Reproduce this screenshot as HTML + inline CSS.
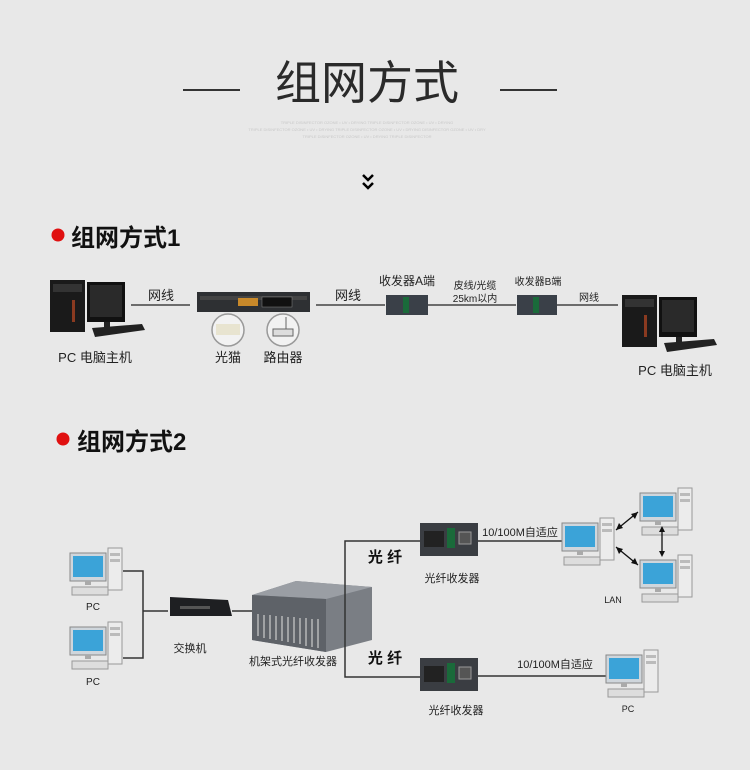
<!DOCTYPE html>
<html><head><meta charset="utf-8"><style>
html,body{margin:0;padding:0;background:#e8e8e8;}
svg{display:block;}
text{font-family:"Liberation Sans","Noto Sans CJK SC",sans-serif;}
</style></head><body>
<svg width="750" height="770" viewBox="0 0 750 770" xmlns="http://www.w3.org/2000/svg">
<defs>
<g id="pcA">
 <rect x="0" y="0" width="35" height="52" fill="#1a1a1a"/>
 <rect x="3" y="4" width="29" height="8" fill="#333"/>
 <rect x="22" y="20" width="3" height="22" fill="#8a3a20"/>
 <rect x="37" y="2" width="38" height="40" fill="#111"/>
 <rect x="40" y="5" width="32" height="32" fill="#2a2a2a"/>
 <rect x="54" y="42" width="6" height="6" fill="#222"/>
 <polygon points="42,48 92,44 95,50 45,57" fill="#222"/>
</g>
<g id="pcB">
 <rect x="0" y="0" width="36" height="28" fill="#cfd6dc" stroke="#888" stroke-width="1"/>
 <rect x="3" y="3" width="30" height="21" fill="#3ba3d8"/>
 <rect x="15" y="28" width="6" height="4" fill="#aaa"/>
 <rect x="38" y="-5" width="14" height="42" fill="#ececec" stroke="#999" stroke-width="1"/>
 <rect x="40" y="0" width="10" height="3" fill="#bbb"/><rect x="40" y="6" width="10" height="3" fill="#bbb"/>
 <rect x="2" y="34" width="36" height="8" fill="#ddd" stroke="#999" stroke-width="1"/>
</g>
<g id="trx">
 <rect x="0" y="0" width="58" height="33" fill="#3a3d42"/>
 <rect x="4" y="8" width="20" height="16" fill="#222"/>
 <rect x="27" y="5" width="8" height="20" fill="#1a6a3a"/>
 <rect x="39" y="9" width="12" height="12" fill="#555" stroke="#999"/>
</g>
</defs>

<line x1="183" y1="90" x2="240" y2="90" stroke="#333" stroke-width="2"/>
<line x1="500" y1="90" x2="557" y2="90" stroke="#333" stroke-width="2"/>
<text x="367" y="99" font-size="46" text-anchor="middle" fill="#2a2a2a">组网方式</text>
<text x="367" y="124" font-size="4" text-anchor="middle" fill="#c8c8c8">TRIPLE DISINFECTOR OZONE • UV • DRYING TRIPLE DISINFECTOR OZONE • UV • DRYING</text>
<text x="367" y="131" font-size="4" text-anchor="middle" fill="#c8c8c8">TRIPLE DISINFECTOR OZONE • UV • DRYING TRIPLE DISINFECTOR OZONE • UV • DRYING DISINFECTOR OZONE • UV • DRY</text>
<text x="367" y="138" font-size="4" text-anchor="middle" fill="#c8c8c8">TRIPLE DISINFECTOR OZONE • UV • DRYING TRIPLE DISINFECTOR</text>
<polyline points="363,175 368,180 373,175" fill="none" stroke="#000" stroke-width="2.5"/>
<polyline points="363,183 368,188 373,183" fill="none" stroke="#000" stroke-width="2.5"/>

<circle cx="58" cy="235" r="6.5" fill="#e01010"/>
<text x="71" y="246" font-size="24" font-weight="bold" fill="#111">组网方式1</text>

<use href="#pcA" x="50" y="280"/>
<text x="95" y="362" font-size="13" text-anchor="middle" fill="#222">PC  电脑主机</text>
<line x1="131" y1="305" x2="190" y2="305" stroke="#222" stroke-width="1.2"/>
<text x="161" y="300" font-size="13" text-anchor="middle" fill="#222">网线</text>
<rect x="197" y="292" width="113" height="20" fill="#2e3033"/>
<rect x="200" y="296" width="107" height="4" fill="#444"/>
<rect x="238" y="298" width="20" height="8" fill="#c8892a"/>
<rect x="262" y="297" width="30" height="10" fill="#111" stroke="#888" stroke-width="0.5"/>
<circle cx="228" cy="330" r="16" fill="#f2f2f2" stroke="#999" stroke-width="1.5"/>
<rect x="216" y="324" width="24" height="11" fill="#e8e4d0"/>
<circle cx="283" cy="330" r="16" fill="#f2f2f2" stroke="#999" stroke-width="1.5"/>
<rect x="273" y="329" width="20" height="7" fill="#ddd" stroke="#666"/>
<line x1="286" y1="317" x2="286" y2="329" stroke="#666"/>
<text x="228" y="362" font-size="13" text-anchor="middle" fill="#222">光猫</text>
<text x="283" y="362" font-size="13" text-anchor="middle" fill="#222">路由器</text>
<line x1="316" y1="305" x2="385" y2="305" stroke="#222" stroke-width="1.2"/>
<text x="348" y="300" font-size="13" text-anchor="middle" fill="#222">网线</text>
<rect x="386" y="295" width="42" height="20" fill="#3a4048"/>
<rect x="403" y="297" width="6" height="16" fill="#1a6a3a"/>
<text x="407" y="285" font-size="12" text-anchor="middle" fill="#222">收发器A端</text>
<line x1="428" y1="305" x2="516" y2="305" stroke="#222" stroke-width="1.2"/>
<text x="475" y="289" font-size="10" text-anchor="middle" fill="#222">皮线/光缆</text>
<text x="475" y="302" font-size="10" text-anchor="middle" fill="#222">25km以内</text>
<rect x="517" y="295" width="40" height="20" fill="#3a4048"/>
<rect x="533" y="297" width="6" height="16" fill="#1a6a3a"/>
<text x="538" y="285" font-size="10" text-anchor="middle" fill="#222">收发器B端</text>
<line x1="557" y1="305" x2="618" y2="305" stroke="#222" stroke-width="1.2"/>
<text x="589" y="301" font-size="10" text-anchor="middle" fill="#222">网线</text>
<use href="#pcA" x="622" y="295"/>
<text x="675" y="375" font-size="13" text-anchor="middle" fill="#222">PC  电脑主机</text>

<circle cx="63" cy="439" r="6.5" fill="#e01010"/>
<text x="77" y="450" font-size="24" font-weight="bold" fill="#111">组网方式2</text>

<use href="#pcB" x="70" y="553"/>
<text x="93" y="610" font-size="10" text-anchor="middle" fill="#222" font-family="Liberation Serif">PC</text>
<use href="#pcB" x="70" y="627"/>
<text x="93" y="685" font-size="10" text-anchor="middle" fill="#222" font-family="Liberation Serif">PC</text>
<polyline points="123,571 143,571 143,658 123,658" fill="none" stroke="#333" stroke-width="1.5"/>
<line x1="143" y1="611" x2="168" y2="611" stroke="#333" stroke-width="1.5"/>
<polygon points="170,597 228,600 232,616 170,616" fill="#1e1f22"/>
<rect x="180" y="606" width="30" height="3" fill="#555"/>
<text x="190" y="652" font-size="11" text-anchor="middle" fill="#222">交换机</text>
<line x1="232" y1="611" x2="252" y2="611" stroke="#333" stroke-width="1.5"/>
<polygon points="252,595 296,581 372,587 372,640 326,652 252,640" fill="#7a7e84"/>
<polygon points="252,595 296,581 372,587 326,599" fill="#9a9ea4"/>
<polygon points="252,595 326,599 326,652 252,640" fill="#5e6268"/>
<g stroke="#ccc" stroke-width="1.2">
<line x1="258" y1="614" x2="258" y2="636"/><line x1="264" y1="615" x2="264" y2="638"/><line x1="270" y1="615" x2="270" y2="639"/><line x1="276" y1="616" x2="276" y2="640"/><line x1="282" y1="616" x2="282" y2="641"/><line x1="288" y1="617" x2="288" y2="642"/><line x1="294" y1="617" x2="294" y2="643"/><line x1="300" y1="618" x2="300" y2="644"/><line x1="306" y1="618" x2="306" y2="646"/><line x1="312" y1="619" x2="312" y2="647"/><line x1="318" y1="619" x2="318" y2="648"/>
</g>
<text x="293" y="665" font-size="11" text-anchor="middle" fill="#222">机架式光纤收发器</text>
<polyline points="420,541 345,541 345,677 420,677" fill="none" stroke="#333" stroke-width="1.5"/>
<text x="385" y="562" font-size="15" font-weight="bold" text-anchor="middle" fill="#111">光  纤</text>
<text x="385" y="663" font-size="15" font-weight="bold" text-anchor="middle" fill="#111">光  纤</text>
<use href="#trx" x="420" y="523"/>
<text x="452" y="582" font-size="11" text-anchor="middle" fill="#222">光纤收发器</text>
<line x1="478" y1="541" x2="562" y2="541" stroke="#333" stroke-width="1.5"/>
<text x="520" y="536" font-size="11" text-anchor="middle" fill="#222">10/100M自适应</text>
<use href="#pcB" x="562" y="523"/>
<use href="#pcB" x="640" y="493"/>
<use href="#pcB" x="640" y="560"/>
<text x="613" y="603" font-size="9" text-anchor="middle" fill="#222" font-family="Liberation Serif">LAN</text>
<g stroke="#111" stroke-width="1.3">
<line x1="616" y1="530" x2="638" y2="512"/><line x1="616" y1="547" x2="638" y2="565"/><line x1="662" y1="528" x2="662" y2="555"/>
</g>
<g fill="#111">
<polygon points="616,530 619,523 623,528"/><polygon points="638,512 631,514 635,519"/>
<polygon points="616,547 619,554 623,549"/><polygon points="638,565 631,563 635,558"/>
<polygon points="662,526 659,532 665,532"/><polygon points="662,557 659,551 665,551"/>
</g>
<use href="#trx" x="420" y="658"/>
<text x="456" y="714" font-size="11" text-anchor="middle" fill="#222">光纤收发器</text>
<line x1="478" y1="676" x2="606" y2="676" stroke="#333" stroke-width="1.5"/>
<text x="555" y="668" font-size="11" text-anchor="middle" fill="#222">10/100M自适应</text>
<use href="#pcB" x="606" y="655"/>
<text x="628" y="712" font-size="9" text-anchor="middle" fill="#222" font-family="Liberation Serif">PC</text>
</svg>
</body></html>
